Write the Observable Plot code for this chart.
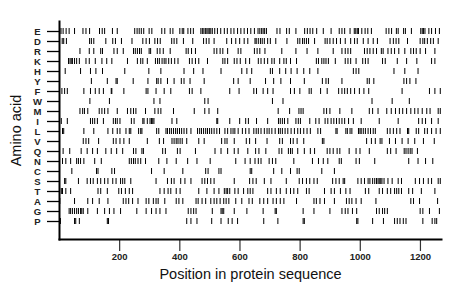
<!DOCTYPE html>
<html>
<head>
<meta charset="utf-8">
<script src="https://cdn.jsdelivr.net/npm/d3@7"></script>
<script src="https://cdn.jsdelivr.net/npm/@observablehq/plot@0.6"></script>
<style>
  html, body { margin: 0; padding: 0; background: #fff; }
  #chart { width: 460px; height: 299px; }
</style>
</head>
<body>
<div id="chart"></div>
<script>
const aminoAcids = ["E","D","R","K","H","Y","F","W","M","I","L","V","Q","N","C","S","T","A","G","P"];
const xTicks = [200, 400, 600, 800, 1000, 1200];

const E = [5,12,22,32,50,78,88,100,133,142,150,176,192,250,258,265,272,280,298,307,340,350,368,377,400,408,413,427,436,445,470,475,480,485,490,494,498,503,508,516,525,536,548,558,570,580,592,603,614,625,636,648,660,666,672,677,682,688,723,733,755,764,786,815,824,833,842,855,877,903,930,939,948,966,980,985,990,994,1005,1016,1025,1037,1086,1095,1104,1120,1126,1144,1150,1170,1201,1206,1210,1215,1228,1237,1250,1263];
const D = [9,14,23,100,106,114,154,177,186,206,241,277,288,299,317,326,335,373,381,390,412,443,479,488,497,514,556,572,586,599,614,626,650,654,661,668,674,681,692,701,719,756,792,799,808,814,821,828,848,883,890,899,910,921,934,950,968,981,990,1010,1026,1043,1057,1099,1110,1119,1128,1157,1199,1208,1214,1223,1234,1243,1259];
const R = [68,99,114,137,143,181,192,212,246,252,259,266,272,298,303,325,334,345,368,421,428,439,452,514,523,534,543,559,594,603,648,657,666,683,739,786,823,859,910,939,950,959,968,1014,1023,1032,1043,1054,1070,1076,1092,1103,1114,1128,1148,1168,1177,1186,1199,1217,1248];
const K = [30,35,39,43,50,57,66,88,99,119,141,157,174,226,259,270,277,292,319,326,332,341,348,354,363,372,383,394,432,441,452,463,492,543,550,559,581,590,601,619,632,661,670,681,692,706,714,732,746,754,768,788,854,861,872,879,886,894,917,950,959,968,986,1008,1017,1026,1074,1083,1123,1154,1188,1237,1248];
const H = [19,70,103,121,143,217,297,337,414,446,477,537,606,623,639,701,708,732,752,770,790,812,832,859,977,986,995,1112,1148,1192];
const Y = [106,159,188,192,245,294,323,328,337,359,381,405,414,434,481,579,594,634,685,712,736,768,814,874,886,894,939,1023,1030,1045,1145,1154,1165,1185];
const F = [8,17,26,81,103,119,132,146,172,174,214,288,294,321,348,370,432,441,470,566,597,646,655,677,692,710,768,781,799,830,837,868,890,928,939,948,957,968,981,997,1012,1028,1139,1230,1248,1266];
const W = [101,166,314,334,483,494,708,743,1039,1106,1163];
const M = [68,77,83,94,132,141,150,161,192,226,237,246,254,286,317,328,337,379,448,483,497,526,727,765,796,803,810,879,888,899,932,972,1030,1041,1059,1088,1103,1117,1130,1141,1154,1168,1181,1192,1206,1221,1232,1259,1266];
const I = [6,26,103,110,117,126,146,179,186,192,201,239,248,277,281,292,301,306,310,314,374,390,523,526,566,599,619,628,655,692,728,734,741,748,759,786,794,801,832,852,863,883,892,903,912,921,930,939,948,961,977,1003,1063,1126,1194,1206,1217,1237,1259];
const L = [10,14,81,114,161,177,192,201,221,232,237,263,270,274,323,330,354,359,366,372,379,386,392,399,406,414,423,437,459,466,472,479,486,492,499,506,514,523,532,550,559,570,577,583,594,608,619,630,646,654,661,670,681,690,697,706,717,728,734,741,750,759,770,781,792,801,812,823,834,859,868,919,923,952,957,966,972,994,999,1003,1010,1017,1026,1034,1043,1050,1090,1099,1110,1121,1132,1157,1161,1186,1194,1214,1223,1237,1252,1266];
const V = [79,88,97,130,179,188,201,214,232,292,332,346,374,381,388,394,401,408,423,463,481,539,550,557,581,621,632,652,690,732,741,768,777,790,812,874,879,1021,1037,1050,1066,1072,1097,1117,1139,1159,1181,1210,1246];
const Q = [12,34,72,92,110,126,154,172,190,210,246,254,274,279,343,352,392,401,452,517,537,559,581,594,626,652,663,686,730,739,761,768,774,792,814,834,848,890,899,910,923,932,963,986,999,1030,1090,1101,1119,1146,1152,1159,1166,1172,1190];
const N = [10,21,37,57,63,70,81,117,139,232,239,246,252,261,270,286,330,357,388,426,457,501,586,617,634,650,661,670,697,708,719,779,841,861,877,892,930,937,986,997,1048,1161,1192,1217,1241];
const C = [41,123,128,174,183,306,348,410,486,494,530,537,634,639,712,739,768,790,797,872,914];
const S = [17,21,63,92,103,112,126,137,150,161,177,188,203,210,217,237,321,359,372,381,403,417,437,474,483,492,503,514,581,632,643,654,681,703,754,797,808,821,832,846,857,908,919,930,943,948,992,1003,1014,1026,1032,1041,1048,1054,1059,1063,1068,1072,1079,1092,1106,1126,1137,1183,1197,1210,1226,1237,1259,1266];
const T = [6,10,21,37,128,137,159,197,206,219,232,243,334,348,361,370,388,401,463,490,514,530,548,554,559,566,583,594,612,626,634,643,692,703,721,734,754,768,779,792,821,830,881,903,914,934,952,966,1017,1028,1063,1074,1090,1101,1114,1121,1128,1137,1161,1174,1203,1248];
const A = [1,50,94,110,132,161,212,221,230,243,261,288,297,312,321,328,350,388,397,410,454,461,474,486,503,514,523,534,546,554,563,586,606,630,641,666,679,692,710,721,734,746,788,846,854,866,881,914,954,963,972,986,1003,1052,1168,1177,1197,1257];
const G = [32,37,43,50,57,63,70,74,79,94,126,150,166,181,203,257,288,306,321,334,354,428,437,446,454,508,537,541,546,581,623,677,717,721,810,846,899,939,950,959,974,988,1054,1063,1074,1081,1090,1199,1208,1230,1263];
const P = [1,3,50,54,66,159,163,423,437,457,506,537,561,574,592,679,726,810,814,988,992,1041,1077,1114,1123,1132,1143,1152,1208,1239,1248,1254];

const series = {E,D,R,K,H,Y,F,W,M,I,L,V,Q,N,C,S,T,A,G,P};
const rows = aminoAcids.flatMap(aa => series[aa].map(pos => ({aa, pos})));

const chart = Plot.plot({
  width: 460,
  height: 299,
  marginLeft: 59,
  marginRight: 19,
  marginTop: 21,
  marginBottom: 60,
  style: {fontFamily: "Liberation Sans, Arial, Helvetica, sans-serif", background: "#fff"},
  x: {domain: [0, 1270]},
  y: {domain: aminoAcids, range: [13, 239], paddingInner: 0.45, paddingOuter: 0.678},
  marks: [
    Plot.tickX(rows, {x: "pos", y: "aa", stroke: "#000", strokeWidth: 1}),
    Plot.axisY({tickSize: 12, tickPadding: 10, textAnchor: "middle", fontSize: 9.5, fontWeight: "bold", fill: "#222", stroke: "#000", strokeWidth: 1.3, label: null}),
    Plot.axisX({ticks: xTicks, tickFormat: "d", tickSize: 12, tickPadding: 2, fontSize: 9.5, fontWeight: "bold", fill: "#222", stroke: "#333", strokeWidth: 1.2, label: null}),
    Plot.frame({anchor: "left", stroke: "#000", strokeWidth: 2}),
    Plot.frame({anchor: "bottom", stroke: "#000", strokeWidth: 2}),
    Plot.text(["Position in protein sequence"], {frameAnchor: "bottom", dy: 39, textAnchor: "middle", fontSize: 14.5, fill: "#111"}),
    Plot.text(["Amino acid"], {frameAnchor: "left", dx: -43, rotate: -90, textAnchor: "middle", lineAnchor: "middle", fontSize: 14.5, fill: "#111"})
  ]
});
document.getElementById("chart").appendChild(chart);
</script>
</body>
</html>
